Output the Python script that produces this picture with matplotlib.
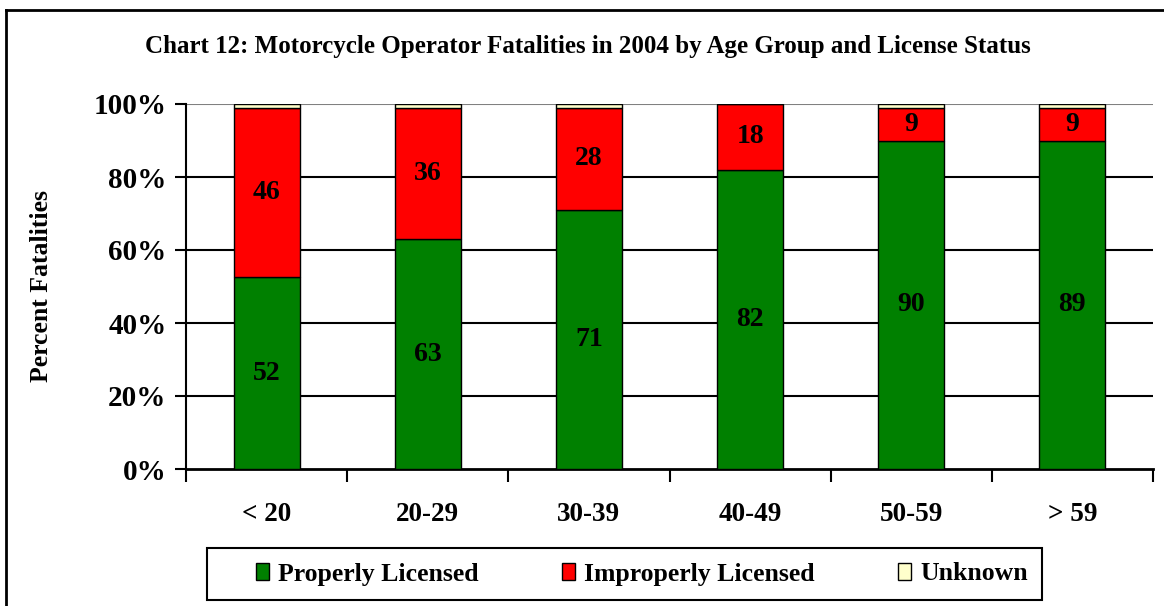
import matplotlib.pyplot as plt
from matplotlib.lines import Line2D
from matplotlib.patches import Rectangle
import numpy as np

plt.rcParams['font.family'] = ['Liberation Serif', 'DejaVu Serif']
plt.rcParams['font.weight'] = 'bold'

age_groups = ['< 20', '20-29', '30-39', '40-49', '50-59', '> 59']
properly = [52, 63, 71, 82, 90, 89]
improperly = [46, 36, 28, 18, 9, 9]
unknown = [1, 1, 1, 0, 1, 1]

W, H = 1164, 606
fig = plt.figure(figsize=(W / 100, H / 100), dpi=100)
ax = fig.add_axes([186 / W, 1 - 469 / H, (1153 - 186) / W, (469 - 104) / H])

x = np.arange(len(age_groups))
p = np.array(properly, float)
i = np.array(improperly, float)
u = np.array(unknown, float)
tot = p + i + u
p_pct, i_pct, u_pct = p / tot * 100, i / tot * 100, u / tot * 100

bw = 0.41
ax.bar(x, p_pct, bw, color='#008000', edgecolor='black', linewidth=1, label='Properly Licensed', zorder=3)
ax.bar(x, i_pct, bw, bottom=p_pct, color='#ff0000', edgecolor='black', linewidth=1, label='Improperly Licensed', zorder=3)
ax.bar(x, u_pct, bw, bottom=p_pct + i_pct, color='#ffffcc', edgecolor='black', linewidth=1, label='Unknown', zorder=3)

for k in range(len(x)):
    ax.text(x[k], p_pct[k] / 2, str(properly[k]), ha='center', va='center', fontsize=20, fontweight='bold', zorder=4)
    ax.text(x[k], p_pct[k] + i_pct[k] / 2, str(improperly[k]), ha='center', va='center', fontsize=20, fontweight='bold', zorder=4)

ax.set_xlim(-0.5, len(x) - 0.5)
ax.set_ylim(0, 100)
ax.set_yticks([0, 20, 40, 60, 80, 100])
ax.set_yticklabels(['0%', '20%', '40%', '60%', '80%', '100%'], fontsize=21, fontweight='bold')
ax.set_xticks(x)
ax.set_xticklabels(age_groups, fontsize=19.5, fontweight='bold')
ax.tick_params(axis='x', length=0, pad=24)
ax.set_xticks(np.arange(-0.5, len(x), 1), minor=True)
ax.tick_params(axis='x', which='minor', length=9, width=1.5, direction='out')
ax.tick_params(axis='y', length=8, width=1.5, direction='out', pad=6)

for yv in [20, 40, 60, 80]:
    ax.axhline(yv, color='black', linewidth=1.5, zorder=1)
ax.axhline(100, color='#808080', linewidth=1.5, zorder=1)

for s in ['top', 'right']:
    ax.spines[s].set_visible(False)
ax.spines['left'].set_linewidth(1.5)
ax.spines['bottom'].set_linewidth(2)

ax.set_ylabel('Percent Fatalities', fontsize=18.5, fontweight='bold', labelpad=29)

fig.text(588 / W, 1 - 47 / H, 'Chart 12: Motorcycle Operator Fatalities in 2004 by Age Group and License Status',
         ha='center', va='center', fontsize=18, fontweight='bold')

leg = fig.legend(loc='center', bbox_to_anchor=(642 / W, 1 - 574 / H), ncol=3, frameon=False,
                 handlelength=0.5, handleheight=0.65, handletextpad=0.35, columnspacing=3.25,
                 prop={'weight': 'bold', 'size': 18.5})

fig.add_artist(Rectangle((207 / W, 1 - 600 / H), (1042 - 207) / W, 52 / H, fill=False,
                         edgecolor='black', linewidth=1.5, transform=fig.transFigure))

# outer chart frame
fig.add_artist(Line2D([6 / W, 6 / W], [0, 1 - 10 / H], color='black', linewidth=2, transform=fig.transFigure))
fig.add_artist(Line2D([6 / W, 1], [1 - 10 / H, 1 - 10 / H], color='black', linewidth=2, transform=fig.transFigure))

fig.savefig('out.png', dpi=100)
